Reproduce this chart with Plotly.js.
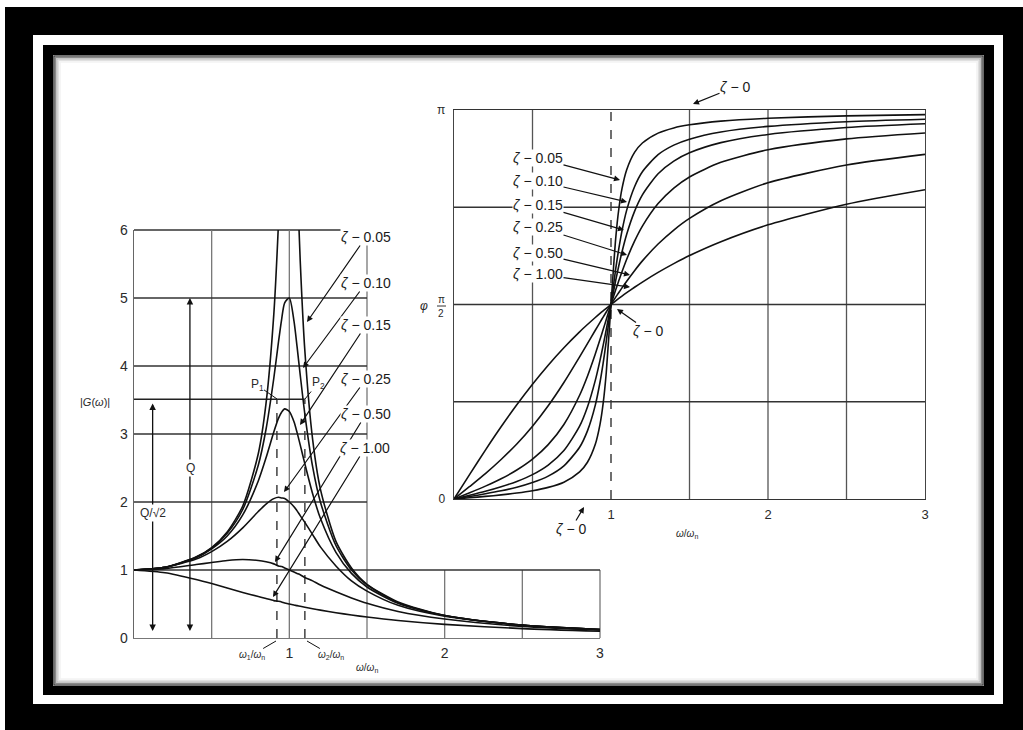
<!DOCTYPE html>
<html>
<head>
<meta charset="utf-8">
<script src="https://cdn.plot.ly/plotly-3.0.1.min.js"></script>
<style>
  html, body { margin: 0; padding: 0; background: #fff; }
  #chart { width: 1023px; height: 730px; }
</style>
</head>
<body>
<div id="chart"></div>
<script>
// 振幅比 |G(ω)|
const ratioMag = [0, 0.2, 0.4, 0.5, 0.6, 0.7, 0.8, 0.85, 0.9, 0.93, 0.95, 0.97, 1.0, 1.03, 1.05, 1.07, 1.1, 1.15, 1.2, 1.3, 1.4, 1.5, 1.7, 2.0, 2.5, 3.0];
const magZ005 = [1, 1.04, 1.19, 1.33, 1.56, 1.94, 2.71, 3.45, 4.76, 6.10, 7.35, 8.80, 10.0, 8.36, 6.82, 5.55, 4.22, 2.92, 2.19, 1.42, 1.03, 0.79, 0.53, 0.33, 0.19, 0.125];
const magZ010 = [1, 1.04, 1.19, 1.32, 1.54, 1.89, 2.54, 3.07, 3.82, 4.35, 4.68, 4.93, 5.0, 4.66, 4.28, 3.87, 3.29, 2.52, 2.00, 1.36, 1.00, 0.78, 0.52, 0.33, 0.19, 0.125];
const magZ015 = [1, 1.04, 1.18, 1.31, 1.50, 1.81, 2.31, 2.65, 3.03, 3.23, 3.32, 3.37, 3.33, 3.18, 3.02, 2.84, 2.56, 2.12, 1.76, 1.26, 0.95, 0.75, 0.51, 0.33, 0.19, 0.124];
const magZ025 = [1, 1.04, 1.16, 1.27, 1.42, 1.62, 1.86, 1.97, 2.05, 2.07, 2.06, 2.05, 2.00, 1.93, 1.87, 1.80, 1.70, 1.52, 1.34, 1.06, 0.84, 0.69, 0.48, 0.32, 0.185, 0.123];
const magZ050 = [1, 1.02, 1.08, 1.11, 1.14, 1.155, 1.14, 1.12, 1.09, 1.06, 1.05, 1.03, 1.00, 0.97, 0.95, 0.93, 0.89, 0.84, 0.78, 0.68, 0.59, 0.51, 0.39, 0.28, 0.17, 0.117];
const magZ100 = [1, 0.96, 0.86, 0.80, 0.735, 0.67, 0.61, 0.58, 0.55, 0.54, 0.53, 0.515, 0.50, 0.485, 0.476, 0.466, 0.452, 0.431, 0.41, 0.372, 0.338, 0.308, 0.257, 0.20, 0.138, 0.10];

// 位相 φ [rad]
const ratioPh = [0, 0.1, 0.2, 0.3, 0.4, 0.5, 0.6, 0.7, 0.8, 0.85, 0.9, 0.93, 0.95, 0.97, 1.0, 1.03, 1.05, 1.07, 1.1, 1.15, 1.2, 1.3, 1.4, 1.5, 1.7, 2.0, 2.5, 3.0];
const phZ005 = [0, 0.010, 0.021, 0.033, 0.048, 0.067, 0.094, 0.136, 0.219, 0.297, 0.442, 0.603, 0.772, 1.024, 1.571, 2.105, 2.344, 2.506, 2.659, 2.799, 2.875, 2.955, 2.997, 3.022, 3.052, 3.075, 3.094, 3.104];
const phZ010 = [0, 0.020, 0.042, 0.066, 0.095, 0.133, 0.185, 0.268, 0.418, 0.550, 0.758, 0.943, 1.097, 1.275, 1.571, 1.858, 2.024, 2.166, 2.333, 2.522, 2.643, 2.781, 2.858, 2.906, 2.964, 3.009, 3.047, 3.067];
const phZ015 = [0, 0.030, 0.062, 0.099, 0.142, 0.197, 0.274, 0.391, 0.588, 0.743, 0.958, 1.120, 1.241, 1.370, 1.571, 1.765, 1.886, 1.995, 2.138, 2.323, 2.456, 2.627, 2.729, 2.796, 2.878, 2.944, 3.000, 3.030];
const phZ025 = [0, 0.051, 0.104, 0.163, 0.234, 0.322, 0.439, 0.602, 0.838, 0.992, 1.171, 1.288, 1.368, 1.450, 1.571, 1.689, 1.764, 1.835, 1.936, 2.082, 2.204, 2.386, 2.511, 2.601, 2.719, 2.820, 2.908, 2.956];
const phZ050 = [0, 0.101, 0.205, 0.319, 0.444, 0.588, 0.753, 0.941, 1.148, 1.255, 1.363, 1.427, 1.469, 1.510, 1.571, 1.630, 1.668, 1.705, 1.759, 1.844, 1.923, 2.059, 2.172, 2.266, 2.409, 2.554, 2.697, 2.783];
const phZ100 = [0, 0.199, 0.395, 0.583, 0.761, 0.927, 1.081, 1.222, 1.350, 1.409, 1.466, 1.499, 1.520, 1.540, 1.571, 1.600, 1.620, 1.639, 1.666, 1.710, 1.752, 1.830, 1.901, 1.966, 2.078, 2.214, 2.381, 2.498];

const zetaValues = ['0.05', '0.10', '0.15', '0.25', '0.50', '1.00'];

// 目盛り
const magTickX = [1, 2, 3];
const magTickY = [0, 1, 2, 3, 4, 5, 6];
const phaseTickX = [1, 2, 3];
const phaseTickY = [0, Math.PI];
const phaseTickText = ['0', 'π'];

// 補助線
const magGridFull = [0.5, 1, 1.5];       // 0〜6 の縦線
const magGridLow = [2, 2.5];             // 0〜1 の縦線
const magGridH = [1, 2, 3, 4, 5];        // 0〜1.5 の横線
const halfPowerX = [0.92, 1.10];         // ω1/ωn, ω2/ωn
const halfPowerLevel = 3.51;             // Q/√2 (ζ=0.10)
const qArrowX = 0.36, qLevel = 5.0;
const q2ArrowX = 0.12;
const phaseGridX = [0.5, 1.5, 2, 2.5];
const phaseGridY = [Math.PI / 4, Math.PI / 2, 3 * Math.PI / 4];

const W = 1023, H = 730;
const fx = px => px / W;
const fy = py => 1 - py / H;
const FONT = 'Liberation Sans, Arial, Helvetica, sans-serif';

// 注釈位置 [文字x, 文字y, 矢先x, 矢先y] (px)
const magLabelPos = [[366, 237, 307, 322], [366, 283, 303, 368], [366, 325, 300, 425], [366, 379, 284, 492], [366, 414, 275, 562], [365, 448, 273, 597]];
const phaseLabelPos = [[538, 158, 620, 180], [538, 181, 627, 202], [538, 205, 624, 230], [538, 227, 627, 255], [538, 253, 630, 275], [538, 274, 630, 287]];

function curve(x, y, xa, ya) {
    return {
        x: x, y: y, xaxis: xa, yaxis: ya,
        type: 'scatter', mode: 'lines', hoverinfo: 'skip',
        line: { color: '#111', width: 1.6, shape: 'spline', smoothing: 0.7 }
    };
}

const traces = [
    curve(ratioMag, magZ005, 'x', 'y'),
    curve(ratioMag, magZ010, 'x', 'y'),
    curve(ratioMag, magZ015, 'x', 'y'),
    curve(ratioMag, magZ025, 'x', 'y'),
    curve(ratioMag, magZ050, 'x', 'y'),
    curve(ratioMag, magZ100, 'x', 'y'),
    curve(ratioPh, phZ005, 'x2', 'y2'),
    curve(ratioPh, phZ010, 'x2', 'y2'),
    curve(ratioPh, phZ015, 'x2', 'y2'),
    curve(ratioPh, phZ025, 'x2', 'y2'),
    curve(ratioPh, phZ050, 'x2', 'y2'),
    curve(ratioPh, phZ100, 'x2', 'y2')
];

// 枠
function rectPx(x0, y0, x1, y1, fill, line) {
    return {
        type: 'rect', xref: 'paper', yref: 'paper', layer: 'below',
        x0: fx(x0), x1: fx(x1), y0: fy(y1), y1: fy(y0),
        fillcolor: fill || 'rgba(0,0,0,0)',
        line: line || { width: 0 }
    };
}

const shapes = [
    rectPx(5, 7, 1023, 730, '#000'),
    rectPx(33, 35, 1003, 704, '#fff'),
    rectPx(43, 45, 994, 695, '#000'),
    rectPx(53, 55, 984, 686, '#fff')
];
// 内側の影
[['#444', 1], ['#8a8a8a', 2.5], ['#bdbdbd', 4], ['#e0e0e0', 5.5], ['#f3f3f3', 7]].forEach(([c, d]) => {
    shapes.push(rectPx(53 + d, 55 + d, 984 - d, 686 - d, null, { color: c, width: 1.6 }));
});

function seg(xref, yref, x0, y0, x1, y1, color, width, dash) {
    return {
        type: 'line', xref: xref, yref: yref, layer: 'below',
        x0: x0, y0: y0, x1: x1, y1: y1,
        line: { color: color, width: width, dash: dash || 'solid' }
    };
}

// 振幅図の格子
magGridFull.forEach(v => shapes.push(seg('x', 'y', v, 0, v, 6, '#777', 1.3)));
magGridLow.forEach(v => shapes.push(seg('x', 'y', v, 0, v, 1, '#777', 1.3)));
shapes.push(seg('x domain', 'y', 1, 0, 1, 1, '#777', 1.3));
magGridH.forEach(v => shapes.push(seg('x', 'y', 0, v, 1.5, v, '#333', 1.3)));
shapes.push(seg('x', 'y', 1.5, 1, 3, 1, '#333', 1.3));
shapes.push(seg('x', 'y domain', 0, 1, 1.5, 1, '#333', 1.3));
shapes.push(seg('x', 'y', 0, halfPowerLevel, halfPowerX[1], halfPowerLevel, '#222', 1.4));
halfPowerX.forEach(v => shapes.push(seg('x', 'y', v, 0, v, halfPowerLevel, '#333', 1.4, 'dash')));

// 位相図の格子
phaseGridX.forEach(v => shapes.push(seg('x2', 'y2', v, 0, v, Math.PI, '#555', 1.3)));
phaseGridY.forEach(v => shapes.push(seg('x2', 'y2', 0, v, 3, v, '#333', 1.3)));
shapes.push(seg('x2', 'y2 domain', 1, 0, 1, 1, '#333', 1.4, 'dash'));
// π/2 の分数線
shapes.push(seg('paper', 'paper', fx(437), fy(306), fx(446), fy(306), '#333', 1));

function arrowNote(text, p, extra) {
    return Object.assign({
        xref: 'paper', yref: 'paper',
        x: fx(p[2]), y: fy(p[3]), ax: p[0] - p[2], ay: p[1] - p[3],
        text: text, showarrow: true, arrowhead: 2, arrowsize: 1, arrowwidth: 1.2,
        arrowcolor: '#111', standoff: 0,
        font: { family: FONT, size: 14, color: '#1a1a1a' },
        bgcolor: '#fff', borderpad: 0
    }, extra || {});
}

function textNote(text, x, y, size, extra) {
    return Object.assign({
        xref: 'paper', yref: 'paper', x: fx(x), y: fy(y),
        xanchor: 'center', yanchor: 'middle', showarrow: false,
        text: text, font: { family: FONT, size: size, color: '#2a2a2a' }
    }, extra || {});
}

function dblArrow(x, y0, y1) {
    return {
        xref: 'x', yref: 'y', axref: 'x', ayref: 'y',
        x: x, y: y1, ax: x, ay: y0, text: '',
        showarrow: true, arrowhead: 2, arrowside: 'end+start',
        arrowsize: 1, arrowwidth: 1.3, arrowcolor: '#111', standoff: 0, startstandoff: 0
    };
}

const smallLead = { arrowhead: 0, arrowwidth: 1, bgcolor: 'rgba(0,0,0,0)' };

const annotations = [];
zetaValues.forEach((z, i) => {
    annotations.push(arrowNote('<i>ζ</i> − ' + z, magLabelPos[i]));
    annotations.push(arrowNote('<i>ζ</i> − ' + z, phaseLabelPos[i]));
});
annotations.push(arrowNote('<i>ζ</i> − 0', [735, 87, 693, 104]));
annotations.push(arrowNote('<i>ζ</i> − 0', [648, 331, 617, 309]));
annotations.push(arrowNote('<i>ζ</i> − 0', [571, 529, 584, 507]));
annotations.push(arrowNote('P<sub>1</sub>', [257, 385, 277, 399], Object.assign({ font: { family: FONT, size: 12, color: '#2a2a2a' } }, smallLead)));
annotations.push(arrowNote('P<sub>2</sub>', [318, 383, 305, 399], Object.assign({ font: { family: FONT, size: 12, color: '#2a2a2a' } }, smallLead)));
annotations.push(arrowNote('<i>ω</i><sub>1</sub>/<i>ω</i><sub>n</sub>', [252, 655, 276, 641], Object.assign({ font: { family: FONT, size: 10, color: '#2a2a2a' } }, smallLead)));
annotations.push(arrowNote('<i>ω</i><sub>2</sub>/<i>ω</i><sub>n</sub>', [331, 655, 307, 641], Object.assign({ font: { family: FONT, size: 10, color: '#2a2a2a' } }, smallLead)));

// Q, Q/√2 の両矢印
annotations.push(dblArrow(q2ArrowX, 0.08, halfPowerLevel - 0.06));
annotations.push(dblArrow(qArrowX, 0.08, qLevel));
annotations.push(textNote('Q/√2', 153, 513, 12, { bgcolor: '#fff' }));
annotations.push(textNote('Q', 190, 468, 12, { bgcolor: '#fff' }));

// 軸ラベル
annotations.push(textNote('|<i>G</i>(<i>ω</i>)|', 95, 402, 11));
annotations.push(textNote('<i>ω</i>/<i>ω</i><sub>n</sub>', 367, 668, 10));
annotations.push(textNote('<i>ω</i>/<i>ω</i><sub>n</sub>', 687, 534, 10));
annotations.push(textNote('<i>φ</i>', 424, 306, 12));
annotations.push(textNote('π', 441, 299, 10));
annotations.push(textNote('2', 441, 313, 10));

const axisBase = {
    showgrid: false, zeroline: false, ticks: '', fixedrange: true,
    showline: false,
    tickfont: { family: FONT, size: 14, color: '#2a2a2a' }
};

const layout = {
    width: W, height: H,
    margin: { l: 0, r: 0, t: 0, b: 0 },
    paper_bgcolor: '#fff',
    plot_bgcolor: 'rgba(0,0,0,0)',
    showlegend: false,
    font: { family: FONT, color: '#222' },
    xaxis: Object.assign({}, axisBase, {
        domain: [fx(134), fx(600)], range: [0, 3], anchor: 'y',
        tickvals: magTickX, ticklabelstandoff: 2,
        showline: true, linecolor: '#777', linewidth: 1.3
    }),
    yaxis: Object.assign({}, axisBase, {
        domain: [fy(638), fy(230)], range: [0, 6], anchor: 'x',
        tickvals: magTickY, ticklabelstandoff: 2,
        showline: true, linecolor: '#666', linewidth: 1.3
    }),
    xaxis2: Object.assign({}, axisBase, {
        domain: [fx(454), fx(925)], range: [0, 3], anchor: 'y2',
        tickvals: phaseTickX, ticklabelstandoff: 3,
        tickfont: { family: FONT, size: 13, color: '#2a2a2a' },
        showline: true, mirror: true, linecolor: '#333', linewidth: 1.4
    }),
    yaxis2: Object.assign({}, axisBase, {
        domain: [fy(499), fy(110)], range: [0, Math.PI], anchor: 'x2',
        tickvals: phaseTickY, ticktext: phaseTickText, ticklabelstandoff: 5,
        tickfont: { family: FONT, size: 12, color: '#2a2a2a' },
        showline: true, mirror: true, linecolor: '#444', linewidth: 1.4
    }),
    shapes: shapes,
    annotations: annotations
};

Plotly.newPlot('chart', traces, layout, { displayModeBar: false, staticPlot: true });
</script>
</body>
</html>
